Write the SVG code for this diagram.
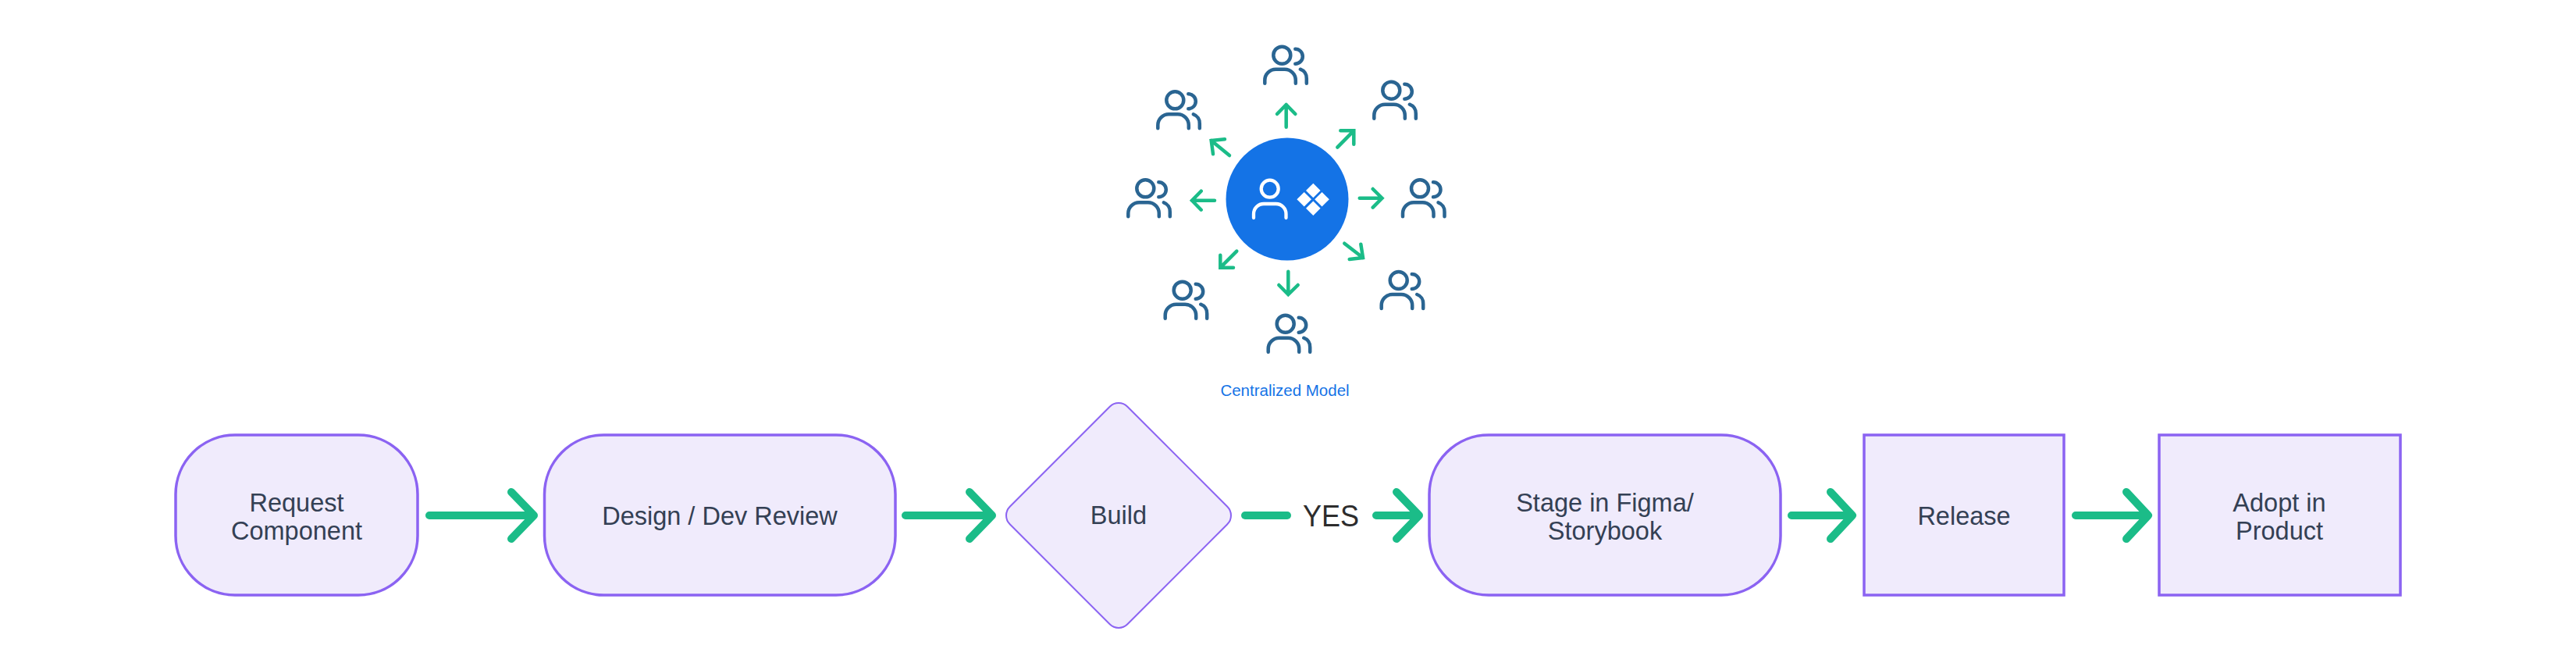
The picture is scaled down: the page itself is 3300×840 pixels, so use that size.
<svg xmlns="http://www.w3.org/2000/svg" width="3300" height="840" viewBox="0 0 3300 840">
<style>
.node{fill:#f0ebfc;stroke:#8b63f2;stroke-width:3.500}
.dia{fill:#f0ebfc;stroke:#8b63f2;stroke-width:2}
.t{font-family:"Liberation Sans",Arial,sans-serif;font-size:32.500px;fill:#344054;text-anchor:middle}
.flow{fill:none;stroke:#1bbc88;stroke-width:10;stroke-linecap:round;stroke-linejoin:round}
.ray{fill:none;stroke:#1bbc88;stroke-width:4.500;stroke-linecap:round;stroke-linejoin:miter}
.ppl{fill:none;stroke:#2a6592;stroke-width:4.500;stroke-linecap:round}
.wht{fill:none;stroke:#fff;stroke-width:4.300;stroke-linecap:round}
</style>
<defs>
<g id="people">
<circle cx="0" cy="0" r="11"/>
<path d="M-22 36V32A14 14 0 0 1-8 18H3.500A14 14 0 0 1 17.500 32V36"/>
<path d="M17-8A9.500 9.500 0 0 1 17 11"/>
<path d="M23.500 18A12 12 0 0 1 31.500 30V36"/>
</g>
</defs>
<g id="connectors">
<path class="flow" d="M550 660H684M655 630L684 660L655 690"/>
<path class="flow" d="M1160 660H1271M1242 630L1271 660L1242 690"/>
<path class="flow" d="M1595 660H1649"/>
<path class="flow" d="M1763 660H1818M1789 630L1818 660L1789 690"/>
<path class="flow" d="M2295 660H2373M2345 630L2373 660L2345 690"/>
<path class="flow" d="M2659 660H2752M2724 630L2752 660L2724 690"/>
<path class="ray" d="M1647.700 162.700V134M1636 146L1647.700 134L1659.400 146" style="stroke-linejoin:round"/>
<path class="ray" d="M1713.300 188.700L1734.300 167.300M1717.300 167.300H1734.300V184.700"/>
<path class="ray" d="M1741.700 253.700H1770M1758.700 242L1770.500 253.700L1758.700 265.700"/>
<path class="ray" d="M1722.300 311.700L1746 330M1743.300 312.700L1746 330L1728.700 332"/>
<path class="ray" d="M1650.300 347.700V377M1638.300 365L1650.300 377L1662.700 365"/>
<path class="ray" d="M1584.300 321.700L1563.300 342.700M1563.300 326.700V342.700H1580"/>
<path class="ray" d="M1556 256.700H1527M1538.700 244.700L1527 256.700L1538.700 268.700"/>
<path class="ray" d="M1575 199L1551.700 180M1554 197.300L1551.700 180L1569 178.300"/>
</g>
<g id="hub">
<circle cx="1649" cy="255" r="78.500" fill="#1473e6"/>
<g class="wht">
<circle cx="1626.700" cy="241.700" r="11"/>
<path d="M1606 279V274A13 13 0 0 1 1619 261H1634.500A13 13 0 0 1 1647.500 274V279"/>
</g>
<g fill="#fff">
<path d="M1682.300 234.700L1691.600 244L1682.300 253.300L1673 244Z"/>
<path d="M1670.700 246L1680 255.300L1670.700 264.600L1661.400 255.300Z"/>
<path d="M1693.500 246L1702.800 255.300L1693.500 264.600L1684.200 255.300Z"/>
<path d="M1682.300 257.400L1691.600 266.700L1682.300 276L1673 266.700Z"/>
</g>
</g>
<g id="user-top" class="ppl"><use href="#people" x="1642.300" y="70.700"/></g>
<g id="user-upper-right" class="ppl"><use href="#people" x="1782.300" y="115.700"/></g>
<g id="user-upper-left" class="ppl"><use href="#people" x="1505.300" y="128.300"/></g>
<g id="user-left" class="ppl"><use href="#people" x="1467.300" y="241.300"/></g>
<g id="user-right" class="ppl"><use href="#people" x="1819" y="241.300"/></g>
<g id="user-lower-right" class="ppl"><use href="#people" x="1791.700" y="359"/></g>
<g id="user-lower-left" class="ppl"><use href="#people" x="1514.700" y="371.700"/></g>
<g id="user-bottom" class="ppl"><use href="#people" x="1646.700" y="414.700"/></g>
<g id="caption"><text x="1646" y="507" font-family="'Liberation Sans',Arial,sans-serif" font-size="20.500" fill="#1473e6" text-anchor="middle">Centralized Model</text></g>
<g id="request">
<rect class="node" x="225" y="557" width="310" height="205" rx="76" ry="76"/>
<text class="t" x="380" y="655">Request</text>
<text class="t" x="380" y="691">Component</text>
</g>
<g id="review">
<rect class="node" x="697.500" y="557" width="449.500" height="205" rx="76" ry="76"/>
<text class="t" x="922" y="672">Design / Dev Review</text>
</g>
<g id="build">
<rect class="dia" x="1326.500" y="553.500" width="213" height="213" rx="16" transform="rotate(45 1433 660)"/>
<text class="t" x="1433" y="671">Build</text>
</g>
<g id="yes"><text x="1705" y="674" font-family="'Liberation Sans',Arial,sans-serif" font-size="38" fill="#2d2d2d" text-anchor="middle" textLength="72" lengthAdjust="spacingAndGlyphs">YES</text></g>
<g id="stage">
<rect class="node" x="1831" y="557" width="450" height="205" rx="76" ry="76"/>
<text class="t" x="2056" y="655">Stage in Figma/</text>
<text class="t" x="2056" y="691">Storybook</text>
</g>
<g id="release">
<rect class="node" x="2388" y="557" width="256" height="205"/>
<text class="t" x="2516" y="672">Release</text>
</g>
<g id="adopt">
<rect class="node" x="2766" y="557" width="309" height="205"/>
<text class="t" x="2920" y="655">Adopt in</text>
<text class="t" x="2920" y="691">Product</text>
</g>
</svg>
